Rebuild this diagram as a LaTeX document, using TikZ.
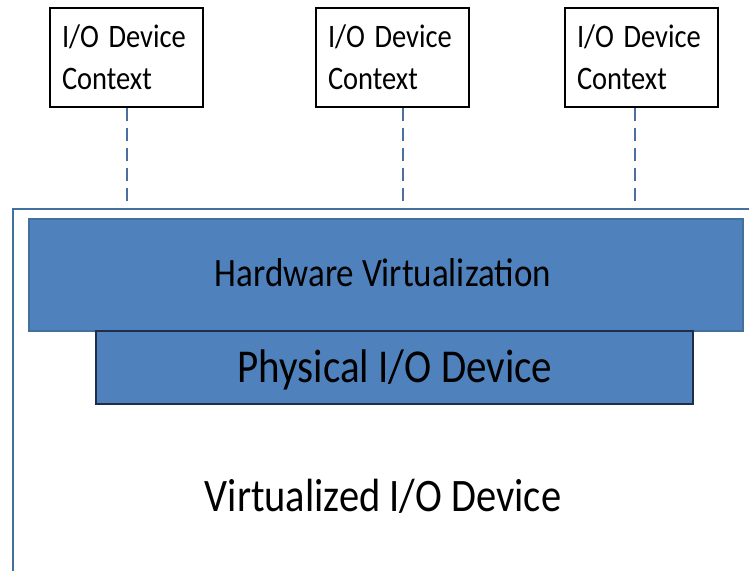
\documentclass[tikz,border=0pt]{standalone}
\usepackage{fontspec}
\usepackage{graphicx}
\setmainfont{Carlito}
\definecolor{boxblue}{HTML}{4F81BD}
\definecolor{edgeblue}{HTML}{41719C}
\definecolor{darkedge}{HTML}{1F2D4A}
\definecolor{dashblue}{HTML}{4A6FA0}
\newcommand{\tallt}[1]{\scalebox{1}[1.15]{#1}}
\begin{document}
\begin{tikzpicture}[x=1pt,y=1pt,
  ctxbox/.style={draw=black,line width=1.3pt,fill=white,inner xsep=12pt,inner ysep=0pt,
    text width=129pt,minimum height=99pt,align=left,font=\fontsize{28.5}{42}\selectfont},
  link/.style={draw=dashblue,line width=2pt,dash pattern=on 13pt off 7pt},
  layer/.style={fill=boxblue,inner sep=0pt},
  label/.style={anchor=base,inner sep=0pt}
]
\useasboundingbox (0,0) rectangle (749,-570);
\clip (0,0) rectangle (749,-570);
\fill[white] (0,0) rectangle (749,-570);
% outer box
\node[draw=edgeblue,line width=2pt,minimum width=757pt,minimum height=381pt,inner sep=0pt]
  (big) at (391.5,-399.5) {};
% context boxes
\node[ctxbox] (c1) at (126.5,-57.5) {\tallt{I/O Device}\\\tallt{Context}};
\node[ctxbox] (c2) at (392.5,-57.5) {\tallt{I/O Device}\\\tallt{Context}};
\node[ctxbox] (c3) at (641.5,-57.5) {\tallt{I/O Device}\\\tallt{Context}};
% dashed links
\draw[link] (c1.south) -- (c1.south |- big.north);
\draw[link] ([xshift=10.5pt]c2.south) -- ([xshift=10.5pt]c2.south |- big.north);
\draw[link] ([xshift=-6.5pt]c3.south) -- ([xshift=-6.5pt]c3.south |- big.north);
% layers
\node[layer,draw=edgeblue,line width=1.3pt,minimum width=714pt,minimum height=112pt]
  (hv) at (386,-275) {};
\node[layer,draw=darkedge,line width=1.6pt,minimum width=597pt,minimum height=73pt]
  (pio) at (394.5,-367.5) {};
\node[label,font=\fontsize{35}{40}\selectfont] (hvt) at (383,-286) {\tallt{Hardware Virtualization}};
\node[label,font=\fontsize{41}{46}\selectfont] (piot) at (395,-382.5) {\tallt{Physical I/O Device}};
\node[label,font=\fontsize{40.5}{46}\selectfont] (vio) at (383,-511.5) {\tallt{Virtualized I/O Device}};
\end{tikzpicture}
\end{document}
